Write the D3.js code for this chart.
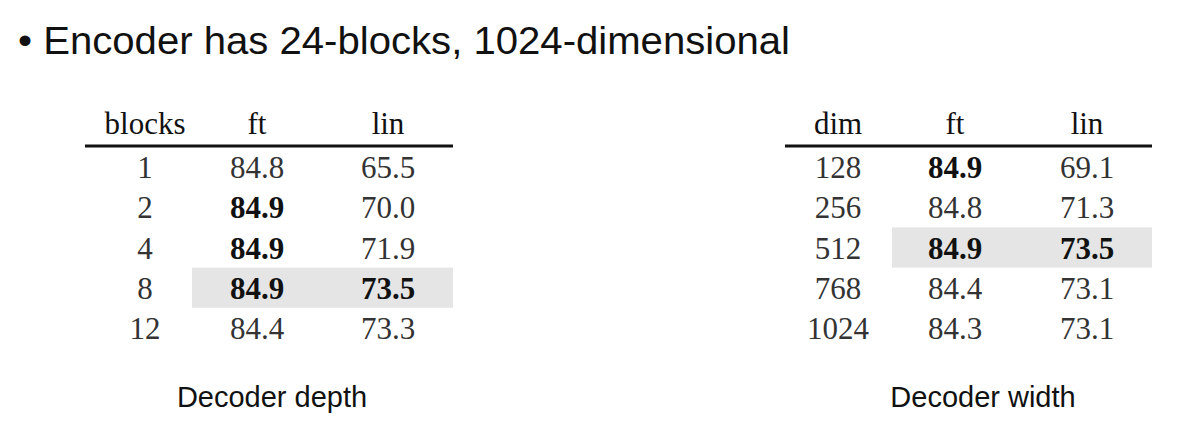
<!DOCTYPE html>
<html><head><meta charset="utf-8">
<script src="https://cdn.jsdelivr.net/npm/d3@7"></script>
<style>body{margin:0;background:#fff}</style>
</head><body>
<script>
// Decoder depth table
const depthHeaders = ['blocks', 'ft', 'lin'];
const depthRows = ['1', '2', '4', '8', '12'];
const depthFt = [84.8, 84.9, 84.9, 84.9, 84.4];
const depthLin = [65.5, 70.0, 71.9, 73.5, 73.3];
const depthBoldFt = [false, true, true, true, false];
const depthBoldLin = [false, false, false, true, false];
const depthHighlight = 3;

// Decoder width table
const widthHeaders = ['dim', 'ft', 'lin'];
const widthRows = ['128', '256', '512', '768', '1024'];
const widthFt = [84.9, 84.8, 84.9, 84.4, 84.3];
const widthLin = [69.1, 71.3, 73.5, 73.1, 73.1];
const widthBoldFt = [true, false, true, false, false];
const widthBoldLin = [false, false, true, false, false];
const widthHighlight = 2;

const W = 1190, H = 428;
const svg = d3.select('body').append('svg').attr('width', W).attr('height', H);

svg.append('text').attr('x', 18).attr('y', 54)
  .attr('font-family', 'Liberation Sans, Arial, sans-serif').attr('font-size', 38)
  .attr('textLength', 772).attr('lengthAdjust', 'spacingAndGlyphs')
  .attr('fill', '#111').text('\u2022 Encoder has 24-blocks, 1024-dimensional');

const y = d3.scaleBand().domain(d3.range(5)).range([147, 348]);

function table(x0, x1, colX, headers, rows, ft, lin, bFt, bLin, hi, hiX0, caption, capX) {
  const g = svg.append('g');
  const x = d3.scaleOrdinal().domain([0, 1, 2]).range(colX);
  g.append('rect').attr('x', hiX0).attr('y', y(hi)).attr('width', x1 - hiX0)
    .attr('height', y.bandwidth()).attr('fill', '#e5e5e5');
  g.selectAll('.h').data(headers).join('text')
    .attr('x', (d, i) => x(i)).attr('y', 134).attr('text-anchor', 'middle')
    .attr('font-family', 'Liberation Serif, Times New Roman, serif').attr('font-size', 31)
    .attr('fill', '#111').text(d => d);
  g.append('line').attr('x1', x0).attr('x2', x1).attr('y1', 146).attr('y2', 146)
    .attr('stroke', '#111').attr('stroke-width', 3);
  const cells = [];
  rows.forEach((r, i) => {
    cells.push({c: 0, r: i, t: r, b: false});
    cells.push({c: 1, r: i, t: ft[i].toFixed(1), b: bFt[i]});
    cells.push({c: 2, r: i, t: lin[i].toFixed(1), b: bLin[i]});
  });
  g.selectAll('.c').data(cells).join('text')
    .attr('x', d => x(d.c)).attr('y', d => y(d.r) + y.bandwidth() / 2 + 11)
    .attr('text-anchor', 'middle')
    .attr('font-family', 'Liberation Serif, Times New Roman, serif').attr('font-size', 31)
    .attr('font-weight', d => d.b ? 'bold' : 'normal')
    .attr('fill', d => d.b ? '#111' : '#333').text(d => d.t);
  g.append('text').attr('x', capX).attr('y', 407).attr('text-anchor', 'middle')
    .attr('font-family', 'Liberation Sans, Arial, sans-serif').attr('font-size', 29)
    .attr('fill', '#111').text(caption);
}

table(85, 453, [145, 257, 388], depthHeaders, depthRows, depthFt, depthLin,
  depthBoldFt, depthBoldLin, depthHighlight, 192, 'Decoder depth', 272);
table(785, 1152, [838, 955, 1087], widthHeaders, widthRows, widthFt, widthLin,
  widthBoldFt, widthBoldLin, widthHighlight, 892, 'Decoder width', 983);
</script>
</body></html>
